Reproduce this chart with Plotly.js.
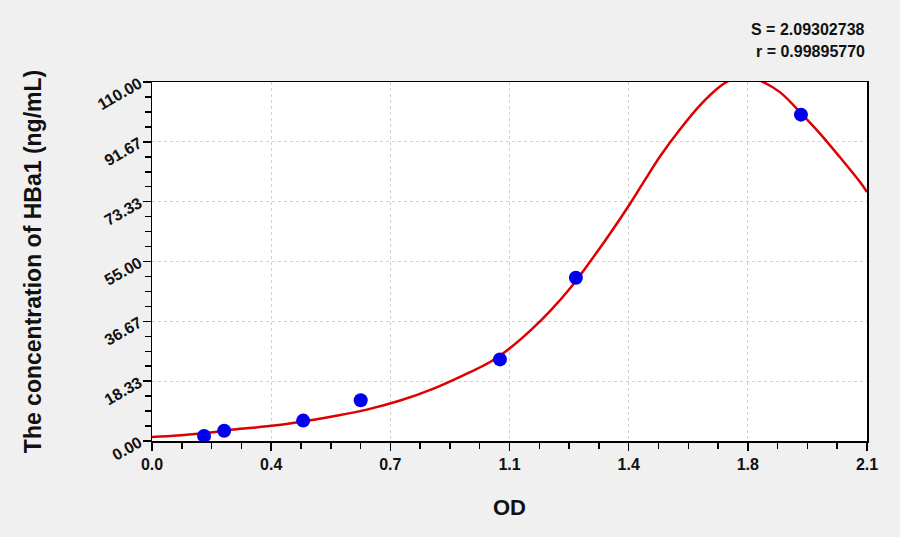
<!DOCTYPE html>
<html>
<head>
<meta charset="utf-8">
<script src="https://cdn.plot.ly/plotly-3.0.1.min.js"></script>
<style>html,body{margin:0;padding:0;background:#f0f0f0;}#chart{width:900px;height:537px;}</style>
</head>
<body>
<div id="chart"></div>
<script>
// Standard points
var odStd = [0.153, 0.212, 0.444, 0.613, 1.022, 1.245, 1.906];
var concStd = [1.56, 3.13, 6.25, 12.5, 25, 50, 100];

// Fitted curve
var odCurve = [0.000, 0.044, 0.142, 0.240, 0.338, 0.435, 0.533, 0.631, 0.729, 0.827, 0.925, 0.993, 1.052, 1.111,
  1.169, 1.228, 1.287, 1.345, 1.404, 1.448, 1.493, 1.551, 1.610, 1.668, 1.693, 1.736, 1.781, 1.844, 1.903, 1.962, 2.020, 2.079, 2.100];
var concCurve = [1.23, 1.44, 2.27, 3.49, 4.50, 5.82, 7.57, 9.62, 12.4, 16.06, 20.65, 24.2, 28.5, 33.8,
  39.8, 46.8, 55.0, 63.5, 72.7, 80.0, 87.3, 95.5, 102.9, 108.6, 110.3, 112.3, 110.7, 106.9, 100.8, 94.2, 87.0, 79.4, 76.3];

var xTickVals = [0, 0.35, 0.7, 1.05, 1.4, 1.75, 2.1];
var xTickText = ["0.0", "0.4", "0.7", "1.1", "1.4", "1.8", "2.1"];
var yTickVals = [0, 110/6, 220/6, 55, 440/6, 550/6, 110];
var yTickText = ["0.00", "18.33", "36.67", "55.00", "73.33", "91.67", "110.00"];

var statS = "S = 2.09302738";
var statR = "r = 0.99895770";

var fontFam = "Liberation Sans, Arial, sans-serif";

var traces = [
  {x: odCurve, y: concCurve, mode: 'lines', type: 'scatter', line: {color: '#dd0000', width: 2.5, shape: 'spline', smoothing: 1}, hoverinfo: 'skip'},
  {x: odStd, y: concStd, mode: 'markers', type: 'scatter', marker: {color: '#0000ee', size: 14}}
];

var layout = {
  width: 900, height: 537,
  paper_bgcolor: '#f0f0f0', plot_bgcolor: '#ffffff',
  showlegend: false,
  margin: {l: 152, r: 33, t: 82, b: 96},
  font: {family: fontFam, color: '#111'},
  xaxis: {
    range: [0, 2.1], tickmode: 'array', tickvals: xTickVals, ticktext: xTickText,
    ticks: 'outside', ticklen: 8, tickwidth: 1.5, tickcolor: '#000',
    showline: true, linecolor: '#000', linewidth: 1.5, mirror: true,
    showgrid: true, gridcolor: '#d0d0d0', griddash: 'dot', gridwidth: 1,
    zeroline: false,
    tickfont: {size: 16, family: fontFam, weight: 'bold', color: '#111'},
    minor: {tickmode: 'linear', tick0: 0, dtick: 0.0875, ticks: 'outside', ticklen: 6, tickwidth: 1.5, tickcolor: '#000', showgrid: false},
    title: {text: 'OD', font: {size: 22, family: fontFam, weight: 'bold', color: '#111'}, standoff: 28}
  },
  yaxis: {
    range: [0, 110], tickmode: 'array', tickvals: yTickVals, ticktext: yTickText,
    ticks: 'outside', ticklen: 8, tickwidth: 1.5, tickcolor: '#000',
    showline: true, linecolor: '#000', linewidth: 1.5, mirror: true,
    showgrid: true, gridcolor: '#d0d0d0', griddash: 'dot', gridwidth: 1,
    zeroline: false, tickangle: -30,
    tickfont: {size: 16, family: fontFam, weight: 'bold', color: '#111'},
    minor: {tickmode: 'linear', tick0: 0, dtick: 110/24, ticks: 'outside', ticklen: 6, tickwidth: 1.5, tickcolor: '#000', showgrid: false},
    title: {text: 'The concentration of HBa1 (ng/mL)', font: {size: 23, family: fontFam, weight: 'bold', color: '#111'}, standoff: 46}
  },
  annotations: [
    {text: statS, xref: 'paper', yref: 'paper', x: 1, y: 1.145, xanchor: 'right', yanchor: 'middle', showarrow: false, font: {size: 16, family: fontFam, weight: 'bold', color: '#111'}},
    {text: statR, xref: 'paper', yref: 'paper', x: 1, y: 1.086, xanchor: 'right', yanchor: 'middle', showarrow: false, font: {size: 16, family: fontFam, weight: 'bold', color: '#111'}}
  ]
};

Plotly.newPlot('chart', traces, layout, {displayModeBar: false, staticPlot: true});
</script>
</body>
</html>
